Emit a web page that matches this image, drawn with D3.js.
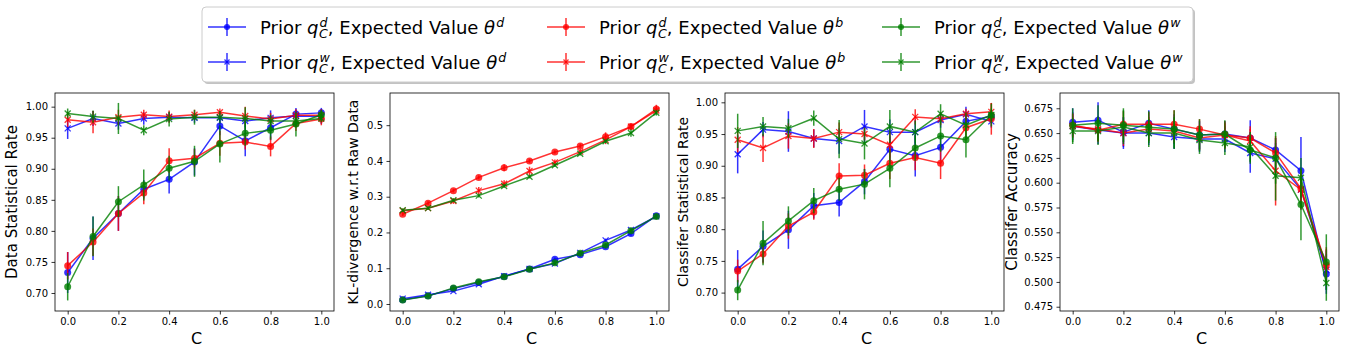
<!DOCTYPE html>
<html>
<head>
<meta charset="utf-8">
<script src="https://cdn.jsdelivr.net/npm/d3@7"></script>
<style>
  body { margin: 0; background: #fff; }
  text { font-family: "DejaVu Sans", sans-serif; white-space: pre; }
</style>
</head>
<body>
<svg id="chart" width="1349" height="354"></svg>
<script>
// x values shared by every panel
const cValues = [0.0, 0.1, 0.2, 0.3, 0.4, 0.5, 0.6, 0.7, 0.8, 0.9, 1.0];
const xTicks = [0.0, 0.2, 0.4, 0.6, 0.8, 1.0];

// series order: q^d/θ^d, q^w/θ^d, q^d/θ^b, q^w/θ^b, q^d/θ^w, q^w/θ^w
const priorSup = ["d", "w", "d", "w", "d", "w"];
const thetaSup = ["d", "d", "b", "b", "w", "w"];

// panel 1: data statistical rate
const dsrMean = [
  [0.733, 0.788, 0.828, 0.867, 0.883, 0.911, 0.969, 0.945, 0.966, 0.988, 0.990],
  [0.965, 0.981, 0.973, 0.981, 0.983, 0.982, 0.982, 0.977, 0.982, 0.985, 0.984],
  [0.744, 0.782, 0.828, 0.861, 0.913, 0.917, 0.941, 0.943, 0.936, 0.973, 0.980],
  [0.979, 0.975, 0.983, 0.987, 0.984, 0.987, 0.991, 0.985, 0.980, 0.986, 0.986],
  [0.710, 0.791, 0.847, 0.874, 0.901, 0.912, 0.940, 0.957, 0.962, 0.972, 0.987],
  [0.989, 0.984, 0.981, 0.962, 0.980, 0.983, 0.983, 0.981, 0.977, 0.977, 0.981]
];
const dsrErr = [
  [0.033, 0.035, 0.028, 0.015, 0.023, 0.022, 0.015, 0.025, 0.020, 0.010, 0.008],
  [0.017, 0.012, 0.010, 0.010, 0.008, 0.008, 0.008, 0.010, 0.012, 0.010, 0.012],
  [0.022, 0.022, 0.028, 0.018, 0.020, 0.015, 0.020, 0.012, 0.016, 0.012, 0.010],
  [0.012, 0.018, 0.012, 0.008, 0.010, 0.008, 0.006, 0.015, 0.010, 0.010, 0.010],
  [0.022, 0.032, 0.025, 0.025, 0.020, 0.025, 0.030, 0.020, 0.015, 0.020, 0.008],
  [0.008, 0.010, 0.025, 0.008, 0.012, 0.012, 0.010, 0.018, 0.010, 0.010, 0.006]
];

// panel 2: KL-divergence
const klMean = [
  [0.012, 0.023, 0.043, 0.060, 0.077, 0.098, 0.125, 0.138, 0.160, 0.197, 0.247],
  [0.015, 0.026, 0.036, 0.055, 0.078, 0.098, 0.113, 0.143, 0.178, 0.207, 0.245],
  [0.251, 0.282, 0.317, 0.354, 0.381, 0.400, 0.425, 0.442, 0.468, 0.496, 0.545],
  [0.261, 0.268, 0.288, 0.317, 0.336, 0.372, 0.396, 0.426, 0.459, 0.496, 0.541],
  [0.011, 0.022, 0.045, 0.062, 0.076, 0.097, 0.115, 0.142, 0.165, 0.205, 0.245],
  [0.262, 0.268, 0.290, 0.303, 0.330, 0.356, 0.388, 0.420, 0.455, 0.478, 0.535]
];
const klErr = [
  [0.004, 0.004, 0.004, 0.004, 0.004, 0.004, 0.005, 0.005, 0.005, 0.006, 0.006],
  [0.004, 0.004, 0.004, 0.004, 0.004, 0.004, 0.005, 0.005, 0.005, 0.006, 0.006],
  [0.005, 0.005, 0.005, 0.005, 0.010, 0.006, 0.005, 0.006, 0.012, 0.008, 0.012],
  [0.006, 0.005, 0.008, 0.010, 0.010, 0.012, 0.008, 0.008, 0.012, 0.008, 0.010],
  [0.004, 0.004, 0.004, 0.004, 0.004, 0.004, 0.005, 0.005, 0.005, 0.006, 0.006],
  [0.005, 0.005, 0.005, 0.005, 0.005, 0.005, 0.005, 0.005, 0.005, 0.010, 0.008]
];

// panel 3: classifier statistical rate
const csrMean = [
  [0.737, 0.773, 0.799, 0.837, 0.842, 0.875, 0.926, 0.916, 0.929, 0.970, 0.978],
  [0.918, 0.957, 0.954, 0.943, 0.939, 0.962, 0.953, 0.953, 0.972, 0.981, 0.970],
  [0.734, 0.761, 0.805, 0.827, 0.884, 0.885, 0.904, 0.913, 0.904, 0.960, 0.974],
  [0.941, 0.928, 0.947, 0.943, 0.953, 0.950, 0.933, 0.977, 0.974, 0.982, 0.985],
  [0.704, 0.778, 0.813, 0.845, 0.863, 0.871, 0.896, 0.928, 0.947, 0.941, 0.980],
  [0.955, 0.962, 0.959, 0.975, 0.942, 0.935, 0.962, 0.953, 0.982, 0.964, 0.980]
];
const csrErr = [
  [0.030, 0.025, 0.030, 0.020, 0.022, 0.020, 0.020, 0.033, 0.020, 0.010, 0.010],
  [0.030, 0.012, 0.032, 0.014, 0.020, 0.026, 0.020, 0.020, 0.012, 0.012, 0.010],
  [0.018, 0.015, 0.020, 0.012, 0.020, 0.017, 0.025, 0.020, 0.025, 0.018, 0.025],
  [0.020, 0.022, 0.020, 0.015, 0.015, 0.010, 0.020, 0.012, 0.010, 0.008, 0.014],
  [0.016, 0.035, 0.023, 0.020, 0.018, 0.024, 0.030, 0.020, 0.025, 0.028, 0.018],
  [0.027, 0.015, 0.015, 0.012, 0.030, 0.025, 0.026, 0.018, 0.015, 0.020, 0.010]
];

// panel 4: classifier accuracy
const accMean = [
  [0.661, 0.663, 0.651, 0.660, 0.654, 0.648, 0.649, 0.645, 0.633, 0.612, 0.508],
  [0.657, 0.653, 0.650, 0.650, 0.646, 0.644, 0.644, 0.630, 0.624, 0.593, 0.512],
  [0.658, 0.653, 0.659, 0.659, 0.659, 0.654, 0.648, 0.645, 0.630, 0.594, 0.517],
  [0.657, 0.654, 0.650, 0.654, 0.652, 0.645, 0.648, 0.642, 0.612, 0.593, 0.515],
  [0.658, 0.660, 0.658, 0.656, 0.654, 0.648, 0.649, 0.633, 0.625, 0.578, 0.520],
  [0.652, 0.652, 0.656, 0.650, 0.650, 0.643, 0.640, 0.636, 0.607, 0.605, 0.499]
];
const accErr = [
  [0.014, 0.018, 0.015, 0.013, 0.015, 0.014, 0.013, 0.018, 0.012, 0.034, 0.020],
  [0.014, 0.014, 0.016, 0.012, 0.012, 0.013, 0.013, 0.020, 0.016, 0.020, 0.020],
  [0.012, 0.012, 0.013, 0.012, 0.014, 0.010, 0.014, 0.012, 0.015, 0.018, 0.018],
  [0.012, 0.012, 0.013, 0.012, 0.012, 0.012, 0.012, 0.012, 0.035, 0.020, 0.018],
  [0.017, 0.018, 0.017, 0.016, 0.019, 0.016, 0.014, 0.014, 0.026, 0.036, 0.028],
  [0.013, 0.014, 0.017, 0.014, 0.016, 0.014, 0.012, 0.015, 0.025, 0.020, 0.018]
];

const yLabels = ["Data Statistical Rate", "KL-divergence w.r.t Raw Data",
                 "Classifer Statistical Rate", "Classifer Accuracy"];
const yTicks1 = [0.70, 0.75, 0.80, 0.85, 0.90, 0.95, 1.00];
const yTicks2 = [0.0, 0.1, 0.2, 0.3, 0.4, 0.5];
const yTicks3 = [0.70, 0.75, 0.80, 0.85, 0.90, 0.95, 1.00];
const yTicks4 = [0.475, 0.500, 0.525, 0.550, 0.575, 0.600, 0.625, 0.650, 0.675];

// styles / layout
const colors = ["#0000ff", "#0000ff", "#ff0000", "#ff0000", "#008000", "#008000"];
const markers = ["o", "x", "o", "x", "o", "x"];
const alpha = 0.8;

const panels = [
  { left: 55,  mean: dsrMean, err: dsrErr, ticks: yTicks1, fmt: ".2f", dom: [0.671, 1.022], labelX: 17, labelSize: 15 },
  { left: 390, mean: klMean,  err: klErr,  ticks: yTicks2, fmt: ".1f", dom: [-0.0196, 0.590], labelX: 358, labelSize: 14 },
  { left: 725, mean: csrMean, err: csrErr, ticks: yTicks3, fmt: ".2f", dom: [0.671, 1.0147], labelX: 688, labelSize: 14 },
  { left: 1060, mean: accMean, err: accErr, ticks: yTicks4, fmt: ".3f", dom: [0.4707, 0.6904], labelX: 1017, labelSize: 15 }
];
const panelW = 279, plotTop = 93, plotBottom = 311;

const svg = d3.select("#chart");

function drawMarker(g, type, x, y, color, size) {
  if (type === "o") {
    g.append("circle").attr("cx", x).attr("cy", y).attr("r", size / 2)
      .attr("fill", color).attr("opacity", alpha);
  } else {
    const h = size / 2;
    g.append("path")
      .attr("d", `M${x - h},${y - h}L${x + h},${y + h}M${x - h},${y + h}L${x + h},${y - h}`)
      .attr("stroke", color).attr("stroke-width", 1.3).attr("fill", "none").attr("opacity", alpha);
  }
}

panels.forEach((p, pi) => {
  const x = d3.scaleLinear().domain([-0.05, 1.05]).range([p.left, p.left + panelW]);
  const y = d3.scaleLinear().domain(p.dom).range([plotBottom, plotTop]);
  const g = svg.append("g");

  const clipId = "clip" + pi;
  svg.append("clipPath").attr("id", clipId).append("rect")
    .attr("x", p.left).attr("y", plotTop).attr("width", panelW).attr("height", plotBottom - plotTop);
  const plot = g.append("g").attr("clip-path", `url(#${clipId})`);

  p.mean.forEach((vals, si) => {
    const s = plot.append("g");
    const line = d3.line().x((d, i) => x(cValues[i])).y(d => y(d));
    s.append("path").datum(vals).attr("d", line)
      .attr("fill", "none").attr("stroke", colors[si]).attr("stroke-width", 1.5).attr("opacity", alpha);
    vals.forEach((v, i) => {
      const e = p.err[si][i];
      s.append("line")
        .attr("x1", x(cValues[i])).attr("x2", x(cValues[i]))
        .attr("y1", y(v - e)).attr("y2", y(v + e))
        .attr("stroke", colors[si]).attr("stroke-width", 1.5).attr("opacity", alpha);
      drawMarker(s, markers[si], x(cValues[i]), y(v), colors[si], markers[si] === "o" ? 7 : 6);
    });
  });

  // frame
  g.append("rect").attr("x", p.left).attr("y", plotTop).attr("width", panelW).attr("height", plotBottom - plotTop)
    .attr("fill", "none").attr("stroke", "#000").attr("stroke-width", 0.8);

  const xa = g.append("g").attr("transform", `translate(0,${plotBottom})`)
    .call(d3.axisBottom(x).tickValues(xTicks).tickFormat(d3.format(".1f")).tickSize(3.5).tickPadding(3.5));
  const ya = g.append("g").attr("transform", `translate(${p.left},0)`)
    .call(d3.axisLeft(y).tickValues(p.ticks).tickFormat(d3.format(p.fmt)).tickSize(3.5).tickPadding(3.5));
  [xa, ya].forEach(a => {
    a.select(".domain").remove();
    a.selectAll("text").attr("font-size", 10).attr("fill", "#000").attr("font-family", "DejaVu Sans");
    a.selectAll("line").attr("stroke", "#000").attr("stroke-width", 0.8);
  });

  g.append("text").attr("x", p.left + panelW / 2 + 2).attr("y", 344)
    .attr("text-anchor", "middle").attr("font-size", 16).text("C");
  g.append("text")
    .attr("transform", `translate(${p.labelX},${(plotTop + plotBottom) / 2}) rotate(-90)`)
    .attr("text-anchor", "middle").attr("font-size", p.labelSize).text(yLabels[pi]);
});

// legend
const leg = svg.append("g");
leg.append("rect").attr("x", 204).attr("y", 9).attr("width", 991).attr("height", 75).attr("rx", 4)
  .attr("fill", "#888").attr("opacity", 0.5);
leg.append("rect").attr("x", 202).attr("y", 7).attr("width", 991).attr("height", 75).attr("rx", 4)
  .attr("fill", "#fff").attr("stroke", "#ccc").attr("stroke-width", 1);

const colX = [208, 547, 882];
const rowY = [27, 62];

function piece(g, x, y, str, size, italic) {
  const t = g.append("text").attr("x", x).attr("y", y).attr("font-size", size)
    .attr("font-style", italic ? "italic" : "normal").text(str);
  return x + t.node().getComputedTextLength();
}

for (let si = 0; si < 6; si++) {
  const cx = colX[Math.floor(si / 2)], cy = rowY[si % 2];
  const e = leg.append("g");
  e.append("line").attr("x1", cx).attr("x2", cx + 38).attr("y1", cy).attr("y2", cy)
    .attr("stroke", colors[si]).attr("stroke-width", 1.5).attr("opacity", alpha);
  e.append("line").attr("x1", cx + 19).attr("x2", cx + 19).attr("y1", cy - 9).attr("y2", cy + 9)
    .attr("stroke", colors[si]).attr("stroke-width", 1.5).attr("opacity", alpha);
  drawMarker(e, markers[si], cx + 19, cy, colors[si], markers[si] === "o" ? 6 : 5);

  const base = cy + 6.5;
  let tx = cx + 52;
  tx = piece(e, tx, base, "Prior ", 18, false);
  tx = piece(e, tx, base, "q", 18, true);
  const a = piece(e, tx + 1, base - 7, priorSup[si], 12.6, true);
  const b = piece(e, tx + 0.5, base + 4, "C", 12.6, true);
  tx = Math.max(a, b);
  tx = piece(e, tx, base, ", Expected Value ", 18, false);
  tx = piece(e, tx, base, "θ", 18, true);
  piece(e, tx + 1, base - 7, thetaSup[si], 12.6, true);
}
</script>
</body>
</html>
